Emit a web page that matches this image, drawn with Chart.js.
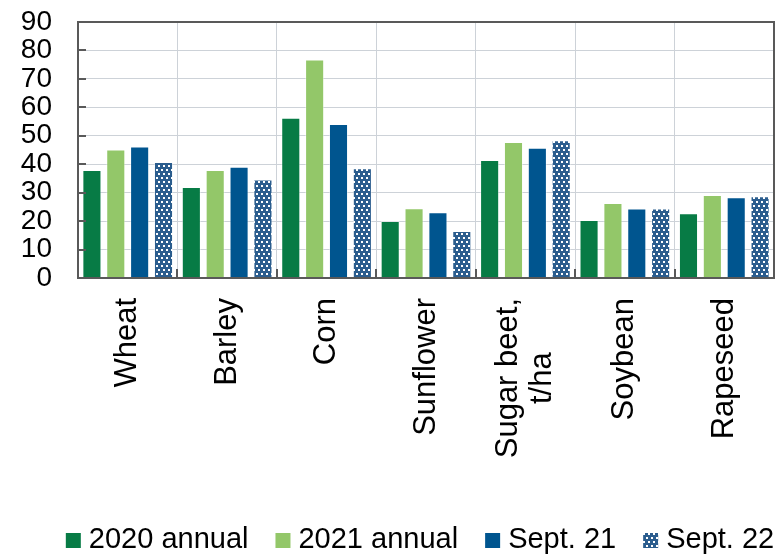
<!DOCTYPE html>
<html>
<head>
<meta charset="utf-8">
<script src="https://cdn.jsdelivr.net/npm/chart.js@4/dist/chart.umd.min.js"></script>
<style>
  html, body { margin: 0; padding: 0; background: #fff; }
  #wrap { width: 778px; height: 554px; }
</style>
</head>
<body>
<div id="wrap"><canvas id="c" width="778" height="554"></canvas></div>
<script>
// Crop yields, centners per hectare (sugar beet in t/ha)
const categories = ['Wheat', 'Barley', 'Corn', 'Sunflower', ['Sugar beet,', 't/ha'], 'Soybean', 'Rapeseed'];
const seriesNames = ['2020 annual', '2021 annual', 'Sept. 21', 'Sept. 22'];
const annual2020 = [38.0, 32.0, 56.3, 20.0, 41.5, 20.4, 22.8];
const annual2021 = [45.2, 38.0, 76.8, 24.5, 47.8, 26.4, 29.2];
const sept21 = [46.2, 39.1, 54.1, 23.1, 45.8, 24.4, 28.4];
const sept22 = [40.8, 34.6, 38.6, 16.5, 48.4, 24.4, 28.7];
const yTicks = [0, 10, 20, 30, 40, 50, 60, 70, 80, 90];

const FONT = "'Liberation Sans', Arial, sans-serif";
const FRAME = '#595959';
const GRID = '#CDD2D8';

// white dotted fill for the latest series
function dotPattern(base) {
  const t = document.createElement('canvas');
  t.width = 10; t.height = 8;
  const g = t.getContext('2d');
  g.fillStyle = base;
  g.fillRect(0, 0, 10, 8);
  g.fillStyle = '#ffffff';
  [[1, 1], [6, 1], [3, 5], [8, 5]].forEach(([x, y]) => g.fillRect(x, y, 2, 2));
  return g.createPattern(t, 'repeat');
}

const ctx = document.getElementById('c').getContext('2d');
const fills = ['#077B45', '#93C769', '#00558F', dotPattern('#2B5D8E')];
const values = [annual2020, annual2021, sept21, sept22];

const datasets = values.map((v, i) => ({
  label: seriesNames[i],
  data: v,
  backgroundColor: fills[i],
  borderColor: 'rgba(255,255,255,0.45)',
  borderWidth: 1,
  categoryPercentage: 0.96,
  barPercentage: 0.8
}));

const decorations = {
  id: 'decorations',
  afterDatasetsDraw(chart) {
    const { ctx, chartArea: a, scales } = chart;
    ctx.save();
    // inward tick marks on the value axis
    ctx.strokeStyle = FRAME;
    ctx.lineWidth = 2;
    yTicks.slice(1, -1).forEach(v => {
      const y = Math.round(scales.y.getPixelForValue(v));
      ctx.beginPath(); ctx.moveTo(a.left, y); ctx.lineTo(a.left + 8, y); ctx.stroke();
    });
    // inward tick marks between categories
    for (let i = 1; i < categories.length; i++) {
      const x = Math.round((scales.x.getPixelForValue(i - 1) + scales.x.getPixelForValue(i)) / 2);
      ctx.beginPath(); ctx.moveTo(x, a.bottom); ctx.lineTo(x, a.bottom - 9); ctx.stroke();
    }
    // plot frame
    ctx.strokeRect(a.left, a.top, a.right - a.left, a.bottom - a.top);
    ctx.restore();
  },
  afterDraw(chart) {
    const { ctx, chartArea: a, scales } = chart;
    ctx.save();
    // rotated category labels
    ctx.font = '31px ' + FONT;
    ctx.fillStyle = '#000';
    ctx.textBaseline = 'middle';
    ctx.textAlign = 'center';
    const lineH = 34;
    categories.forEach((lab, i) => {
      const lines = Array.isArray(lab) ? lab : [lab];
      const w = Math.max(...lines.map(s => ctx.measureText(s).width));
      const cx = scales.x.getPixelForValue(i);
      ctx.save();
      ctx.translate(cx, a.bottom + 20);
      ctx.rotate(-Math.PI / 2);
      lines.forEach((s, k) => {
        const off = (k - (lines.length - 1) / 2) * lineH;
        ctx.fillText(s, -w / 2, off);
      });
      ctx.restore();
    });
    // legend
    ctx.font = '29px ' + FONT;
    ctx.textAlign = 'left';
    ctx.textBaseline = 'alphabetic';
    const box = 15, gapText = 8, gapItem = 27;
    const widths = chart.data.datasets.map(d => box + gapText + ctx.measureText(d.label).width);
    const total = widths.reduce((s, w) => s + w, 0) + gapItem * (widths.length - 1);
    let x = (a.left + a.right) / 2 - total / 2 - 6;
    const by = 533;
    chart.data.datasets.forEach((d, i) => {
      ctx.fillStyle = d.backgroundColor;
      ctx.fillRect(x, by, box, box);
      ctx.fillStyle = '#000';
      ctx.fillText(d.label, x + box + gapText, by + box);
      x += widths[i] + gapItem;
    });
    ctx.restore();
  }
};

new Chart(ctx, {
  type: 'bar',
  data: { labels: categories, datasets },
  options: {
    responsive: false,
    animation: false,
    layout: { padding: { top: 22, right: 4, left: 0, bottom: 0 } },
    plugins: { legend: { display: false }, tooltip: { enabled: false } },
    scales: {
      x: {
        grid: { display: true, offset: true, color: GRID, lineWidth: 1, drawTicks: false },
        border: { display: false },
        ticks: { display: false },
        afterFit(s) { s.height = 276; s.paddingLeft = 0; s.paddingRight = 0; }
      },
      y: {
        min: 0,
        max: 90,
        afterBuildTicks(s) { s.ticks = yTicks.map(v => ({ value: v })); },
        grid: { color: GRID, lineWidth: 1, drawTicks: false },
        border: { display: false },
        ticks: { padding: 26, autoSkip: false, color: '#000', font: { family: FONT, size: 28 } },
        afterFit(s) { s.width = 78; s.paddingTop = 0; s.paddingBottom = 0; }
      }
    }
  },
  plugins: [decorations]
});
</script>
</body>
</html>
